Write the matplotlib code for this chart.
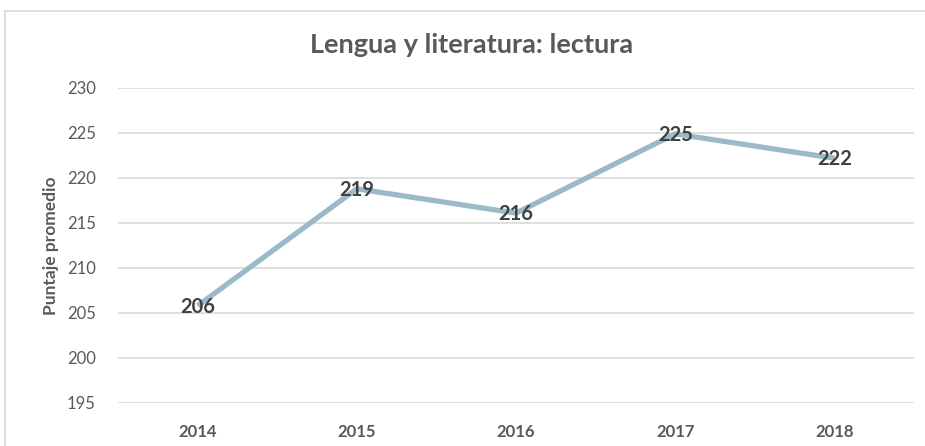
import matplotlib
matplotlib.use("Agg")
import matplotlib.pyplot as plt
from matplotlib.lines import Line2D

years = ["2014", "2015", "2016", "2017", "2018"]
scores = [205.8, 218.8, 216.1, 224.9, 222.2]
score_labels = ["206", "219", "216", "225", "222"]
y_ticks = [195, 200, 205, 210, 215, 220, 225, 230]

plt.rcParams['font.family'] = ['Lato', 'DejaVu Sans']

fig = plt.figure(figsize=(9.25, 4.46), dpi=100)
ax = fig.add_axes([118/925, 43/446, (914-118)/925, 315/446])

x = list(range(len(years)))
ax.plot(x, scores, color='#9bbac7', linewidth=3.8, solid_capstyle='butt', zorder=3)
for xi, yi, lab in zip(x, scores, score_labels):
    ax.text(xi, yi - 0.1, lab, ha='center', va='center', fontsize=14.5, fontweight='bold',
            color='#404040', zorder=4)

ax.set_xlim(-0.5, len(years) - 0.5)
ax.set_ylim(195, 230)
ax.set_yticks(y_ticks)
ax.set_xticks(x)
ax.set_xticklabels(years, fontsize=12, fontweight='bold', color='#595959')
ax.tick_params(axis='y', labelsize=12, labelcolor='#595959', length=0, pad=16)
ax.tick_params(axis='x', length=0, pad=15)
ax.grid(axis='y', color='#d9d9d9', linewidth=1.2)
ax.set_axisbelow(True)
for s in ax.spines.values():
    s.set_visible(False)

ax.set_ylabel('Puntaje promedio', fontsize=12.5, fontweight='bold', color='#595959', labelpad=6)

fig.text(472/925, 1 - 45/446, 'Lengua y literatura: lectura', ha='center', va='center',
         fontsize=19.5, fontweight='bold', color='#595959')

# chart border (left & top visible)
fig.add_artist(Line2D([5/925, 5/925], [0, 1 - 11/446], transform=fig.transFigure,
                      color='#d9d9d9', linewidth=1.2))
fig.add_artist(Line2D([5/925, 1], [1 - 11/446, 1 - 11/446], transform=fig.transFigure,
                      color='#d9d9d9', linewidth=1.2))

fig.savefig('out.png', dpi=100, facecolor='white')
